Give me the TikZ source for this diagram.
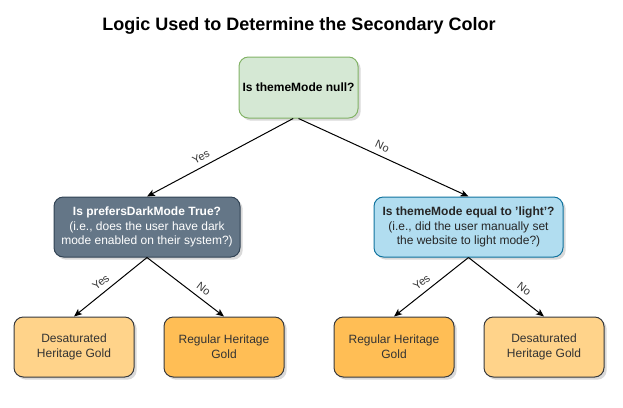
\documentclass[tikz,border=0pt]{standalone}
\usepackage{fontspec}
\setmainfont{Liberation Sans}
\usetikzlibrary{arrows.meta,shadows}
\definecolor{gfill}{HTML}{D5E8D4}
\definecolor{gdraw}{HTML}{82B366}
\definecolor{dfill}{HTML}{647687}
\definecolor{ddraw}{HTML}{314354}
\definecolor{bfill}{HTML}{B1DDF0}
\definecolor{bdraw}{HTML}{10739E}
\definecolor{lgold}{HTML}{FFD38A}
\definecolor{rgold}{HTML}{FFBE55}
\definecolor{odraw}{HTML}{36393D}
\definecolor{txt}{HTML}{333333}
\tikzset{
  box/.style={draw, rounded corners=7pt, line width=0.75pt, align=center,
    font=\fontsize{9}{11}\selectfont, inner sep=2pt,
    drop shadow={shadow xshift=2pt, shadow yshift=-2pt, opacity=0.25, fill=black!60}},
  rootbox/.style={box, fill=gfill, draw=gdraw, minimum width=89.25pt, minimum height=45.75pt},
  darkbox/.style={box, fill=dfill, draw=ddraw, text=white, minimum width=139.5pt, minimum height=45pt},
  bluebox/.style={box, fill=bfill, draw=bdraw, text=black!85, minimum width=141.75pt, minimum height=45pt},
  leafbox/.style={box, draw=odraw, text=black!80, minimum width=90pt, minimum height=45pt},
  conn/.style={line width=0.75pt, -{Stealth[length=6pt,width=5pt,inset=1.5pt]}},
  lbl/.style={font=\fontsize{8.25}{10}\selectfont, text=txt, sloped, above, inner sep=4pt},
}
\begin{document}
\begin{tikzpicture}[x=0.75pt,y=-0.75pt]
\useasboundingbox (0,0) rectangle (623,407);
\node[font=\bfseries\fontsize{13.5}{15}\selectfont,
      drop shadow={shadow xshift=0pt, shadow yshift=0pt, opacity=0}] (title) at (299,26) {Logic Used to Determine the Secondary Color};
\node[rootbox] (root) at (298.5,87.5) {\bfseries Is themeMode null?};
\node[darkbox] (dark) at (147,227) {\bfseries Is prefersDarkMode True?\\(i.e., does the user have dark\\mode enabled on their system?)};
\node[bluebox] (light) at (468.5,227) {\bfseries Is themeMode equal to 'light'?\\(i.e., did the user manually set\\the website to light mode?)};
\node[leafbox, fill=lgold] (l1) at (74,347) {Desaturated\\Heritage Gold};
\node[leafbox, fill=rgold] (l2) at (224,347) {Regular Heritage\\Gold};
\node[leafbox, fill=rgold] (l3) at (394,347) {Regular Heritage\\Gold};
\node[leafbox, fill=lgold] (l4) at (544,347) {Desaturated\\Heritage Gold};
\draw[conn] ([xshift=-4pt]root.south) -- node[lbl, pos=0.6] {Yes} (dark.north);
\draw[conn] (root.south) -- node[lbl, pos=0.47] {No} (light.north);
\draw[conn] (dark.south) -- node[lbl, pos=0.55] {Yes} (l1.north);
\draw[conn] (dark.south) -- node[lbl, pos=0.66] {No} (l2.north);
\draw[conn] (light.south) -- node[lbl, pos=0.55] {Yes} (l3.north);
\draw[conn] (light.south) -- node[lbl, pos=0.66] {No} (l4.north);
\end{tikzpicture}
\end{document}
